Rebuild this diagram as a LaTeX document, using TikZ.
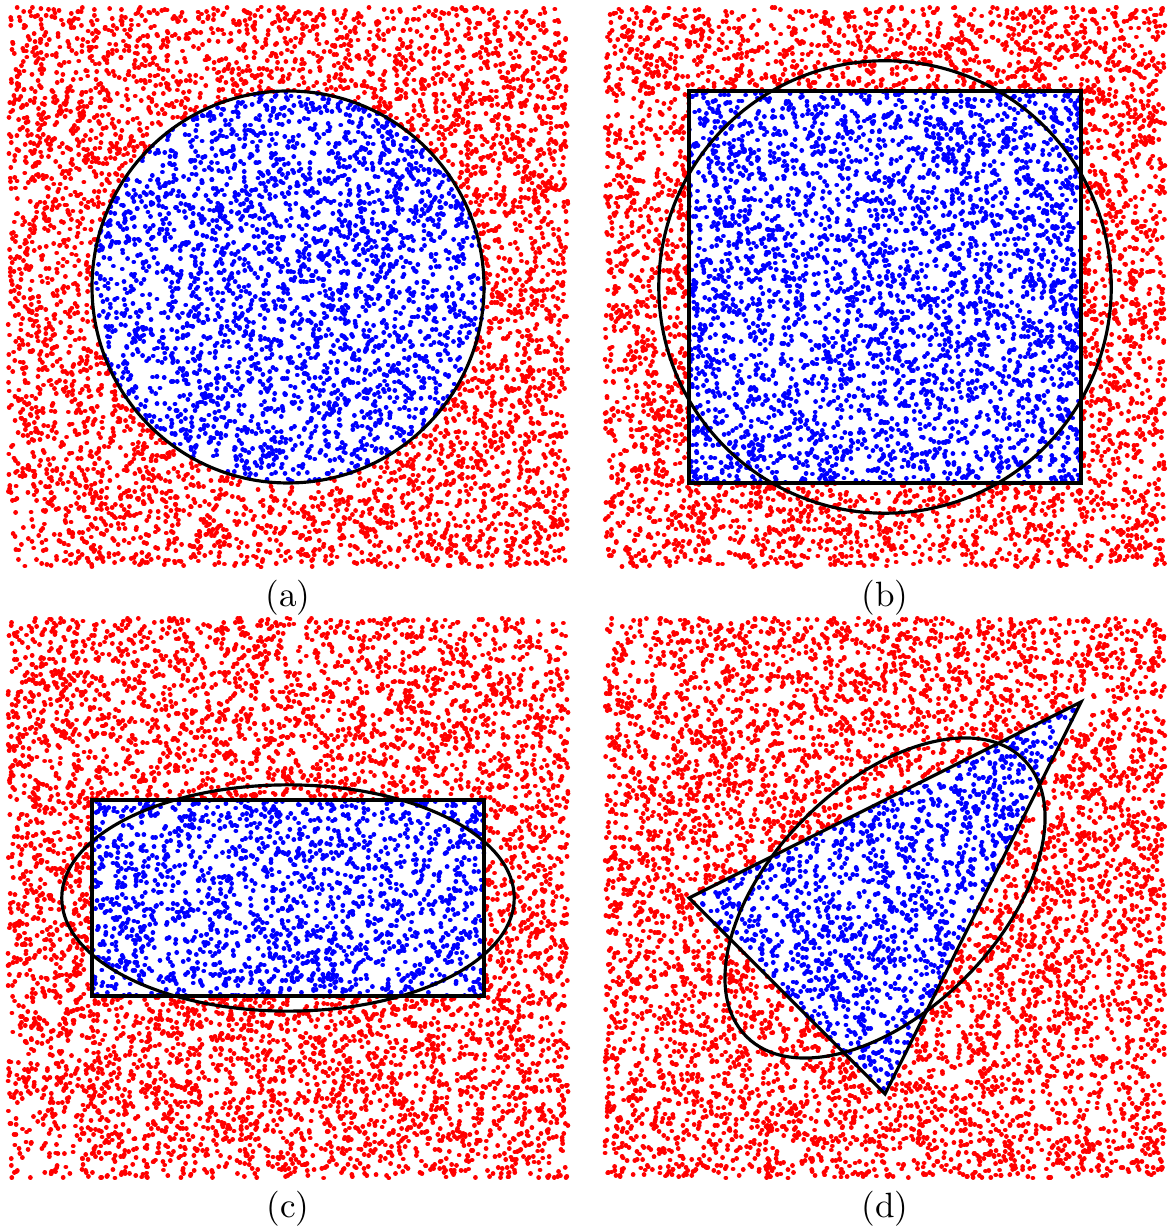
\documentclass[tikz,border=0pt]{standalone}
\usepackage{tikz}

\tikzset{
  dotcloud/.style={line width=1.35pt, line cap=round},
  shapeline/.style={draw=black, line width=0.9pt},
}
\newcommand{\npts}{7000}
% one dot, as a tiny round-capped stroke
\newcommand{\dotat}[2]{\pgfpathmoveto{\pgfqpointxy{#1}{#2}}%
  \pgfpathlineto{\pgfpointadd{\pgfqpointxy{#1}{#2}}{\pgfqpoint{0.01pt}{0pt}}}%
  \pgfusepath{stroke}}
% random points in the panel: red outside, blue inside (#2 is the test)
\newcommand{\scatter}[2]{%
  \begin{scope}[dotcloud, red]
    \pgfmathsetseed{#1}
    \foreach \i in {1,...,\npts} {
      \pgfmathrand\let\px\pgfmathresult
      \pgfmathrand\let\py\pgfmathresult
      \pgfmathtruncatemacro\inside{#2}
      \ifnum\inside=0 \dotat{\px}{\py}\fi
    }
  \end{scope}
  \begin{scope}[dotcloud, blue]
    \pgfmathsetseed{#1}
    \foreach \i in {1,...,\npts} {
      \pgfmathrand\let\px\pgfmathresult
      \pgfmathrand\let\py\pgfmathresult
      \pgfmathtruncatemacro\inside{#2}
      \ifnum\inside=1 \dotat{\px}{\py}\fi
    }
  \end{scope}}

\begin{document}
\begin{tikzpicture}
  \useasboundingbox (0,0) rectangle (11.68,12.28);

  % (a) circle
  \begin{scope}[shift={(2.88cm,9.41cm)}, x=2.8cm, y=2.8cm]
    \scatter{11}{\px*\px+\py*\py<0.49}
    \draw[shapeline] (0,0) circle (0.7);
    \node (labela) at (0,-1.11) {(a)};
  \end{scope}

  % (b) square and its ellipse
  \begin{scope}[shift={(8.85cm,9.41cm)}, x=2.8cm, y=2.8cm]
    \scatter{23}{abs(\px)<0.7 && abs(\py)<0.7}
    \draw[shapeline] (-0.7,-0.7) rectangle (0.7,0.7);
    \draw[shapeline] (0,0) circle (0.808);
    \node (labelb) at (0,-1.11) {(b)};
  \end{scope}

  % (c) rectangle and its ellipse
  \begin{scope}[shift={(2.88cm,3.30cm)}, x=2.8cm, y=2.8cm]
    \scatter{37}{abs(\px)<0.7 && abs(\py)<0.35}
    \draw[shapeline] (-0.7,-0.35) rectangle (0.7,0.35);
    \draw[shapeline] (0,0) ellipse [x radius=0.808, y radius=0.404];
    \node (labelc) at (0,-1.11) {(c)};
  \end{scope}

  % (d) triangle and its ellipse
  \begin{scope}[shift={(8.85cm,3.30cm)}, x=2.8cm, y=2.8cm]
    \scatter{41}{2*\py-\px<0.7 && 2*\px-\py<0.7 && \px+\py>-0.7}
    \coordinate (ta) at (-0.7,0);
    \coordinate (tb) at (0.7,0.7);
    \coordinate (tc) at (0,-0.7);
    \draw[shapeline] (ta) -- (tb) -- (tc) -- cycle;
    \draw[shapeline, rotate=45] (0,0) ellipse [x radius=0.7, y radius=0.404];
    \node (labeld) at (0,-1.11) {(d)};
  \end{scope}
\end{tikzpicture}
\end{document}
